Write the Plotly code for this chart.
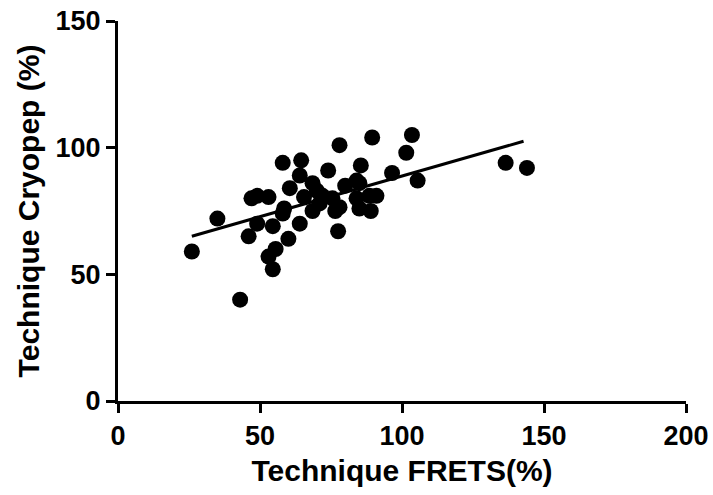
import numpy as np
import plotly.graph_objects as go

frets = [26, 35, 43, 46, 47, 49, 49, 53, 53, 54.5, 55.5, 54.5, 58.5, 58, 60, 60.5,
         58, 64, 64.5, 64, 65.5, 68.5, 68.5, 70, 71, 72, 74, 75.5, 76.5, 77.5, 78,
         78, 80, 84, 85, 84, 85, 85.5, 89, 88.5, 91, 89.5, 96.5, 101.5, 103.5,
         105.5, 136.5, 144]
cryopep = [59, 72, 40, 65, 80, 70, 81, 80.5, 57, 69, 60, 52, 76, 74, 64, 84,
           94, 89, 95, 70, 80.5, 86, 75, 83, 78, 81, 91, 80, 75, 67, 101,
           76.5, 85, 87, 86, 80, 76, 93, 75, 81, 81, 104, 90, 98, 105,
           87, 94, 92]

fit_slope = 0.321
fit_intercept = 56.7
fit_x_end = 142.8

x_ticks = [0, 50, 100, 150, 200]
y_ticks = [0, 50, 100, 150]

x_line = np.array([min(frets), fit_x_end])
y_line = fit_intercept + fit_slope * x_line

font_family = "Liberation Sans, Arial, sans-serif"

fig = go.Figure()
fig.add_trace(go.Scatter(x=frets, y=cryopep, mode="markers",
                         marker=dict(size=16, color="black", line=dict(width=0)),
                         showlegend=False, cliponaxis=False))
fig.add_trace(go.Scatter(x=x_line, y=y_line, mode="lines",
                         line=dict(color="black", width=3),
                         showlegend=False))

axis_common = dict(showgrid=False, zeroline=False, showline=True, linecolor="black",
                   linewidth=3, ticks="outside", ticklen=9, tickwidth=3,
                   tickcolor="black", mirror=False, ticklabeloverflow="allow",
                   tickfont=dict(family=font_family, size=27, color="black", weight="bold"))

fig.update_xaxes(range=[0, 200], tickvals=x_ticks, ticktext=[str(v) for v in x_ticks],
                 title=dict(text="<b>Technique FRETS(%)</b>", standoff=10,
                            font=dict(family=font_family, size=30, color="black")),
                 **axis_common)
fig.update_yaxes(range=[0, 150], tickvals=y_ticks, ticktext=[str(v) for v in y_ticks],
                 title=dict(text="<b>Technique Cryopep (%)</b>", standoff=8,
                            font=dict(family=font_family, size=30, color="black")),
                 **axis_common)

fig.update_layout(width=713, height=495,
                  margin=dict(l=118, r=27, t=21, b=94, autoexpand=False),
                  paper_bgcolor="white", plot_bgcolor="white",
                  font=dict(family=font_family, color="black"))

fig.write_html("out.html", config={"displayModeBar": False},
               post_script="document.body.style.margin='0';document.body.style.overflow='hidden';")
